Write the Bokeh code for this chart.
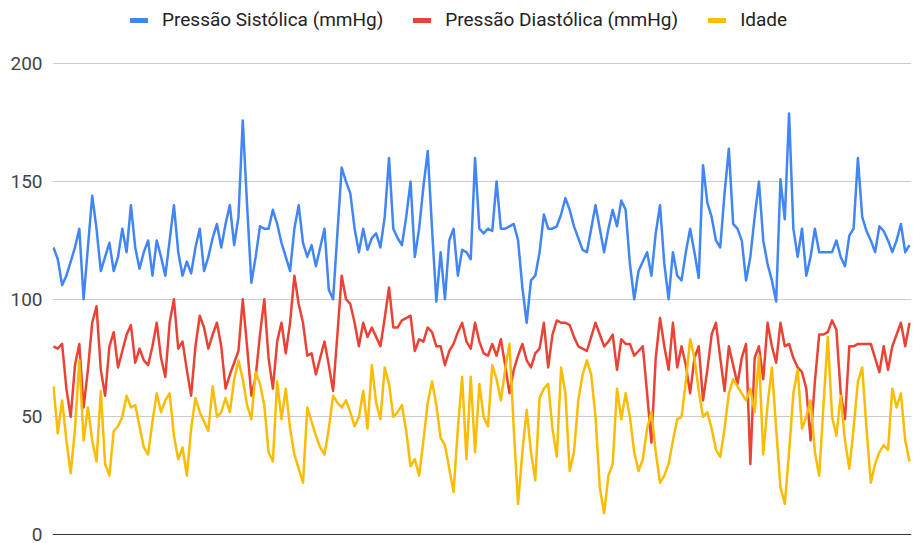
from bokeh.plotting import figure
from bokeh.models import Range1d, FixedTicker, Span, Legend, LegendItem, ColumnDataSource
from bokeh.embed import file_html
from bokeh.resources import INLINE

series_names = ["Pressão Sistólica (mmHg)", "Pressão Diastólica (mmHg)", "Idade"]
colors = ["#4285F4", "#EA4335", "#FBBC04"]
y_ticks = [0, 50, 100, 150, 200]

sistolica = [
    122, 117, 106, 110, 116, 122, 130, 100, 122, 144, 130, 112, 118, 124, 112, 118, 130, 120, 140, 122,
    113, 120, 125, 110, 125, 118, 110, 125, 140, 120, 110, 116, 111, 122, 130, 112, 118, 126, 132, 122,
    132, 140, 123, 135, 176, 140, 107, 118, 131, 130, 130, 138, 132, 124, 118, 112, 130, 140, 124, 118,
    123, 114, 122, 130, 104, 100, 128, 156, 150, 145, 130, 120, 130, 121, 126, 128, 122, 135, 160, 130,
    126, 123, 135, 150, 118, 130, 148, 163, 130, 99, 120, 100, 125, 130, 110, 121, 120, 117, 160, 130,
    128, 130, 129, 150, 130, 130, 131, 132, 125, 105, 90, 108, 110, 120, 136, 130, 130, 131, 136, 143,
    138, 131, 126, 121, 120, 130, 140, 130, 120, 130, 138, 131, 142, 138, 115, 100, 112, 116, 120, 110,
    128, 140, 115, 100, 120, 110, 108, 120, 130, 120, 109, 157, 141, 135, 125, 122, 145, 164, 132, 130,
    125, 108, 118, 135, 150, 125, 115, 108, 99, 151, 134, 179, 130, 118, 130, 110, 118, 130, 120, 120,
    120, 120, 125, 118, 114, 127, 130, 160, 135, 129, 125, 120, 131, 129, 125, 120, 125, 132, 120, 123,
]

diastolica = [
    80, 79, 81, 62, 50, 72, 81, 54, 70, 90, 97, 70, 59, 80, 86, 71, 78, 85, 89, 73,
    79, 74, 72, 80, 90, 75, 67, 90, 100, 79, 82, 70, 59, 80, 93, 88, 79, 85, 90, 80,
    62, 68, 73, 78, 100, 80, 59, 67, 85, 100, 75, 62, 82, 90, 77, 90, 110, 98, 90, 76,
    77, 68, 75, 82, 72, 61, 85, 110, 100, 98, 90, 80, 90, 84, 88, 84, 80, 92, 105, 88,
    88, 91, 92, 93, 78, 83, 82, 88, 86, 80, 80, 72, 78, 81, 86, 90, 82, 79, 90, 82,
    77, 76, 81, 76, 83, 72, 60, 70, 76, 81, 74, 71, 77, 79, 90, 71, 85, 91, 90, 90,
    89, 84, 80, 79, 78, 84, 90, 85, 80, 82, 85, 70, 83, 81, 81, 76, 78, 80, 60, 39,
    75, 92, 80, 70, 90, 71, 80, 72, 60, 75, 80, 57, 70, 85, 90, 75, 61, 80, 72, 64,
    75, 81, 30, 75, 80, 66, 90, 80, 73, 90, 80, 81, 75, 71, 69, 62, 40, 65, 85, 85,
    86, 91, 87, 60, 49, 80, 80, 81, 81, 81, 81, 75, 69, 80, 70, 80, 85, 90, 80, 90,
]

idade = [
    63, 43, 57, 40, 26, 45, 74, 40, 54, 40, 31, 61, 30, 25, 44, 46, 50, 59, 54, 55,
    46, 37, 34, 48, 60, 52, 57, 60, 42, 32, 37, 25, 45, 58, 52, 48, 44, 63, 50, 52,
    58, 52, 66, 74, 66, 55, 49, 69, 64, 55, 35, 31, 65, 49, 62, 45, 34, 28, 22, 54,
    48, 42, 37, 34, 45, 59, 56, 54, 57, 52, 46, 50, 61, 45, 72, 56, 49, 71, 64, 50,
    52, 55, 44, 29, 32, 25, 40, 56, 65, 55, 41, 38, 28, 18, 45, 67, 32, 67, 35, 64,
    50, 46, 72, 66, 57, 70, 81, 45, 13, 35, 53, 35, 23, 58, 62, 64, 45, 33, 71, 60,
    27, 35, 57, 68, 74, 68, 50, 20, 9, 25, 30, 62, 49, 60, 50, 35, 27, 32, 45, 52,
    35, 22, 25, 30, 40, 49, 50, 65, 83, 75, 61, 50, 52, 45, 36, 33, 45, 60, 66, 63,
    60, 57, 62, 52, 76, 34, 55, 71, 45, 20, 13, 35, 60, 70, 45, 50, 57, 35, 25, 55,
    84, 50, 42, 59, 40, 28, 45, 65, 71, 45, 22, 30, 35, 38, 36, 62, 54, 60, 40, 31,
]

assert len(sistolica) == len(diastolica) == len(idade) == 200
indices = list(range(len(sistolica)))

FONT = "Roboto"

p = figure(
    width=912, height=543,
    output_backend="svg", toolbar_location=None,
    x_axis_location=None,
    x_range=Range1d(-0.23, 199.46),
    y_range=Range1d(-0.43, 226.99),
    min_border_left=52, min_border_right=1, min_border_top=0, min_border_bottom=8,
)
p.outline_line_color = None
p.background_fill_color = "white"
p.border_fill_color = "white"

p.xgrid.visible = False
p.ygrid.ticker = FixedTicker(ticks=y_ticks[1:])
p.ygrid.grid_line_color = "#cccccc"
p.ygrid.grid_line_width = 1

yax = p.yaxis[0]
yax.ticker = FixedTicker(ticks=y_ticks)
yax.axis_line_color = None
yax.major_tick_line_color = None
yax.minor_tick_line_color = None
yax.major_tick_out = 0
yax.major_tick_in = 0
yax.major_label_standoff = 10
yax.major_label_text_font = FONT
yax.major_label_text_font_size = "19px"
yax.major_label_text_line_height = 0.9
yax.major_label_text_color = "#444444"

p.add_layout(Span(location=0, dimension="width", line_color="#333333", line_width=1))

nan = float("nan")
items = []
for name, vals, col in zip(series_names, [sistolica, diastolica, idade], colors):
    src = ColumnDataSource(dict(x=indices, y=vals))
    p.line("x", "y", source=src, line_color=col, line_width=2.5, line_join="round")
    key = p.line(x=[nan], y=[nan], line_color=col, line_width=5, line_cap="round")
    items.append(LegendItem(label=name, renderers=[key]))

legend = Legend(
    items=items, orientation="horizontal", location=(78, 504),
    glyph_width=18, glyph_height=20, label_standoff=14, spacing=30,
    label_text_font=FONT, label_text_font_size="19px", label_text_color="#222222",
    border_line_color=None, background_fill_alpha=0, padding=0, margin=0,
)
p.add_layout(legend, "center")

open("out.html", "w").write(file_html(p, INLINE))
